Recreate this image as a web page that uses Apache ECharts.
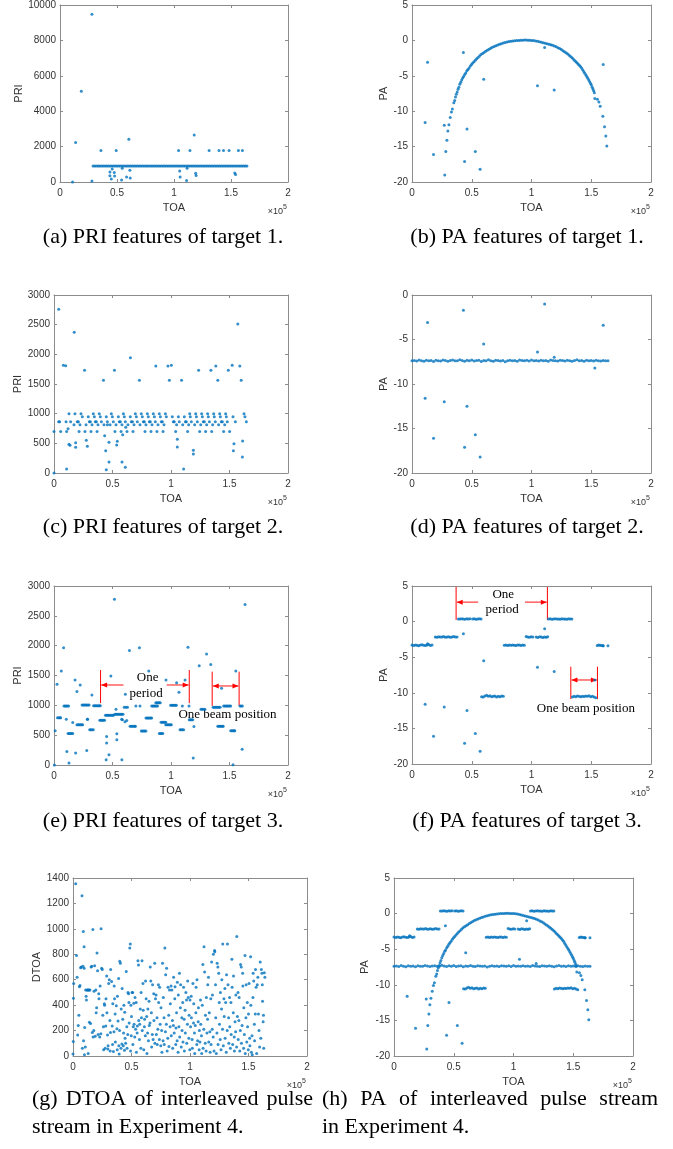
<!DOCTYPE html>
<html>
<head>
<meta charset="utf-8">
<title>PRI / PA features</title>
<script src="https://cdn.jsdelivr.net/npm/echarts@6/dist/echarts.min.js"></script>
<style>
html, body { margin: 0; padding: 0; background: #fff; }
#chart { width: 673px; height: 1149px; }
</style>
</head>
<body>
<div id="chart"></div>
<script>
// ---------------- data (TOA in units of 1e5) ----------------
// target 1, PRI: steady line at 900 plus scattered pulses
const priT1Toa = [0.29,0.305,0.32,0.335,0.35,0.365,0.38,0.395,0.41,0.425,0.44,0.455,0.47,0.485,0.50,0.515,0.53,0.545,0.56,0.575,0.59,0.605,0.62,0.635,0.65,0.665,0.68,0.695,0.71,0.725,0.74,0.755,0.77,0.785,0.80,0.815,0.83,0.845,0.86,0.875,0.89,0.905,0.92,0.935,0.95,0.965,0.98,0.995,1.01,1.025,1.04,1.055,1.07,1.085,1.10,1.115,1.13,1.145,1.16,1.175,1.19,1.205,1.22,1.235,1.25,1.265,1.28,1.295,1.31,1.325,1.34,1.355,1.37,1.385,1.40,1.415,1.43,1.445,1.46,1.475,1.49,1.505,1.52,1.535,1.55,1.565,1.58,1.595,1.61,1.625,1.64];
const priT1Level = 900;
const priT1Out = [[0.11,0],[0.137,2230],[0.187,5130],[0.28,9480],[0.28,60],[0.359,1780],[0.493,1780],[0.438,560],[0.438,360],[0.45,170],[0.458,730],[0.476,540],[0.479,340],[0.54,110],[0.546,770],[0.584,280],[0.604,2420],[0.613,670],[0.616,225],[1.04,1780],[1.05,620],[1.054,280],[1.11,90],[1.115,770],[1.14,1780],[1.177,2660],[1.19,490],[1.194,370],[1.308,1780],[1.395,1780],[1.434,1780],[1.483,1780],[1.565,1780],[1.60,1780],[1.533,505],[1.54,430]];

// target 1, PA: beam-scan arc
const paT1Arc = [[0.274,-19.0],[0.283,-15.7],[0.292,-14.1],[0.300,-12.8],[0.309,-11.9],[0.320,-10.9],[0.330,-10.1],[0.338,-9.7],[0.350,-8.8],[0.357,-8.5],[0.364,-8.0],[0.371,-7.6],[0.378,-7.3],[0.385,-6.9],[0.392,-6.6],[0.400,-6.2],[0.408,-5.9],[0.416,-5.6],[0.424,-5.3],[0.432,-5.1],[0.441,-4.8],[0.450,-4.6],[0.459,-4.3],[0.468,-4.1],[0.478,-3.9],[0.488,-3.6],[0.498,-3.4],[0.508,-3.2],[0.519,-3.0],[0.530,-2.8],[0.541,-2.6],[0.553,-2.4],[0.565,-2.2],[0.577,-2.0],[0.590,-1.85],[0.603,-1.7],[0.616,-1.55],[0.630,-1.4],[0.644,-1.25],[0.658,-1.1],[0.672,-0.98],[0.687,-0.87],[0.702,-0.76],[0.717,-0.65],[0.732,-0.55],[0.747,-0.46],[0.763,-0.38],[0.779,-0.3],[0.795,-0.23],[0.811,-0.17],[0.827,-0.12],[0.843,-0.08],[0.859,-0.05],[0.875,-0.02],[0.891,0.0],[0.907,0.02],[0.923,0.03],[0.939,0.04],[0.955,0.04],[0.971,0.03],[0.987,0.02],[1.003,0.0],[1.019,-0.03],[1.035,-0.07],[1.051,-0.12],[1.067,-0.18],[1.083,-0.25],[1.099,-0.32],[1.115,-0.4],[1.131,-0.47],[1.147,-0.55],[1.162,-0.62],[1.177,-0.7],[1.192,-0.8],[1.207,-0.91],[1.222,-1.03],[1.236,-1.15],[1.250,-1.3],[1.263,-1.45],[1.276,-1.6],[1.289,-1.75],[1.301,-1.9],[1.313,-2.07],[1.325,-2.24],[1.337,-2.4],[1.348,-2.6],[1.359,-2.8],[1.370,-2.98],[1.380,-3.15],[1.390,-3.33],[1.400,-3.5],[1.410,-3.7],[1.419,-3.9],[1.428,-4.15],[1.437,-4.4],[1.446,-4.65],[1.455,-4.9],[1.463,-5.1],[1.471,-5.35],[1.479,-5.6],[1.487,-5.85],[1.494,-6.1],[1.501,-6.3],[1.508,-6.6],[1.514,-6.85],[1.520,-7.1],[1.526,-7.4],[1.552,-8.3],[1.564,-8.7],[1.575,-9.3],[1.597,-10.7],[1.611,-12.2],[1.622,-13.5],[1.630,-14.9]];

// noise pulses common to every PA plot
const paNoise = [[0.11,-11.6],[0.13,-3.1],[0.18,-16.1],[0.27,-12.0],[0.43,-1.7],[0.44,-17.1],[0.46,-12.5],[0.53,-15.7],[0.57,-18.2],[0.60,-5.5],[1.05,-6.4],[1.11,-1.0],[1.19,-7.0],[1.53,-8.2],[1.60,-3.4]];

// target 2, PRI: five staggered levels plus scattered pulses
const priT2At1000 = [0.128,0.179,0.231,0.336,0.387,0.490,0.593,0.695,0.746,0.798,0.849,0.900,0.952,1.160,1.211,1.262,1.313,1.365,1.416,1.467,1.624];
const priT2At950 = [0.242,0.293,0.345,0.396,0.447,0.499,0.550,0.601,0.652,0.704,0.755,0.806,0.858,0.909,0.960,1.011,1.063,1.114,1.165,1.217,1.268,1.319,1.370,1.422,1.473,1.530,1.632];
const priT2At865 = [0.040,0.048,0.103,0.142,0.199,0.208,0.302,0.311,0.353,0.362,0.405,0.456,0.507,0.558,0.567,0.610,0.661,0.670,0.712,0.764,0.772,0.815,0.823,0.866,0.917,0.926,1.020,1.028,1.071,1.123,1.131,1.174,1.225,1.276,1.285,1.328,1.379,1.430,1.439,1.481,1.550,1.644];
const priT2At815 = [0.171,0.222,0.274,0.325,0.376,0.427,0.456,0.479,0.530,0.581,0.632,0.684,0.735,0.786,0.838,0.889,0.940,1.048,1.100,1.151,1.202,1.254,1.305,1.356,1.407,1.459];
const priT2At700 = [0.0,0.057,0.108,0.214,0.265,0.316,0.368,0.521,0.573,0.624,0.675,0.778,0.829,0.880,0.932,1.040,1.142,1.245,1.296,1.348,1.450,1.501];
const priT2Out = [[0.12,747],[0.128,483],[0.137,466],[0.185,511],[0.185,433],[0.276,551],[0.285,449],[0.433,629],[0.442,376],[0.47,517],[0.47,185],[0.447,56],[0.541,534],[0.536,472],[0.581,185],[0.610,96],[0.587,646],[0.613,770],[0.108,67],[0.0,0],[1.054,567],[1.054,438],[1.108,67],[1.191,382],[1.191,320],[1.538,494],[1.533,376],[1.612,539],[1.61,270],[0.04,2758],[0.08,1815],[0.10,1809],[0.173,2371],[0.261,1730],[0.423,1562],[0.517,1730],[0.653,1944],[0.73,1562],[0.87,1803],[0.974,1803],[0.986,1562],[1.003,1815],[1.09,1562],[1.236,1730],[1.341,1730],[1.383,1803],[1.40,1562],[1.49,1730],[1.523,1815],[1.571,2511],[1.588,1803],[1.60,1562]];

// target 2, PA: constant beam
const paT2Line = [[0.00,-7.40],[0.02,-7.35],[0.04,-7.42],[0.06,-7.30],[0.08,-7.38],[0.10,-7.45],[0.12,-7.33],[0.14,-7.40],[0.16,-7.36],[0.18,-7.48],[0.20,-7.32],[0.22,-7.39],[0.24,-7.41],[0.26,-7.29],[0.28,-7.37],[0.30,-7.44],[0.32,-7.35],[0.34,-7.31],[0.36,-7.40],[0.38,-7.38],[0.40,-7.27],[0.42,-7.36],[0.44,-7.43],[0.46,-7.34],[0.48,-7.39],[0.50,-7.30],[0.52,-7.42],[0.54,-7.37],[0.56,-7.33],[0.58,-7.46],[0.60,-7.35],[0.62,-7.40],[0.64,-7.28],[0.66,-7.38],[0.68,-7.44],[0.70,-7.32],[0.72,-7.36],[0.74,-7.41],[0.76,-7.35],[0.78,-7.50],[0.80,-7.38],[0.82,-7.33],[0.84,-7.40],[0.86,-7.36],[0.88,-7.43],[0.90,-7.31],[0.92,-7.37],[0.94,-7.39],[0.96,-7.34],[0.98,-7.42],[1.00,-7.29],[1.02,-7.38],[1.04,-7.36],[1.06,-7.41],[1.08,-7.33],[1.10,-7.40],[1.12,-7.35],[1.14,-7.44],[1.16,-7.30],[1.18,-7.37],[1.20,-7.39],[1.22,-7.42],[1.24,-7.34],[1.26,-7.36],[1.28,-7.41],[1.30,-7.32],[1.32,-7.38],[1.34,-7.45],[1.36,-7.35],[1.38,-7.28],[1.40,-7.40],[1.42,-7.37],[1.44,-7.43],[1.46,-7.33],[1.48,-7.39],[1.50,-7.36],[1.52,-7.41],[1.54,-7.34],[1.56,-7.38],[1.58,-7.42],[1.60,-7.35],[1.62,-7.40],[1.64,-7.38]];

// target 3, PRI: short dashes per beam position plus scattered pulses
const priT3Dash = [[0.030,790],[0.040,790],[0.050,790],[0.057,790],[0.085,990],[0.095,990],[0.105,990],[0.115,990],[0.125,990],[0.120,528],[0.130,528],[0.140,528],[0.150,528],[0.160,528],[0.160,712],[0.196,673],[0.206,673],[0.216,673],[0.226,673],[0.236,673],[0.245,673],[0.240,1005],[0.250,1005],[0.260,1005],[0.270,1005],[0.280,1005],[0.290,1005],[0.300,1005],[0.305,590],[0.315,590],[0.325,590],[0.336,590],[0.338,992],[0.348,992],[0.358,992],[0.368,992],[0.378,992],[0.388,992],[0.396,992],[0.392,751],[0.402,751],[0.412,751],[0.422,751],[0.432,751],[0.440,835],[0.450,835],[0.460,835],[0.470,835],[0.480,835],[0.490,835],[0.500,835],[0.508,835],[0.520,850],[0.530,850],[0.540,850],[0.550,850],[0.560,850],[0.570,850],[0.580,850],[0.590,850],[0.600,968],[0.615,968],[0.628,968],[0.650,651],[0.660,651],[0.670,651],[0.680,651],[0.690,651],[0.696,651],[0.700,990],[0.735,990],[0.746,568],[0.756,568],[0.766,568],[0.776,568],[0.786,568],[0.786,788],[0.796,788],[0.806,788],[0.816,788],[0.826,788],[0.835,788],[0.835,990],[0.845,990],[0.855,990],[0.865,990],[0.875,990],[0.885,990],[0.870,1045],[0.880,1045],[0.890,1045],[0.900,1045],[0.908,1045],[0.900,528],[0.910,528],[0.920,528],[0.930,528],[0.915,715],[0.925,715],[0.935,715],[0.945,715],[0.955,715],[0.955,673],[0.965,673],[0.975,673],[0.985,673],[0.995,673],[1.003,673],[0.997,1001],[1.007,1001],[1.017,1001],[1.027,1001],[1.037,1001],[1.046,1001],[1.077,590],[1.087,590],[1.097,590],[1.108,590],[1.097,990],[1.154,990],[1.156,757],[1.166,757],[1.176,757],[1.186,757],[1.256,935],[1.266,935],[1.276,935],[1.290,935],[1.360,968],[1.370,968],[1.380,968],[1.390,968],[1.400,968],[1.410,968],[1.420,968],[1.400,648],[1.410,648],[1.420,648],[1.430,648],[1.440,648],[1.446,648],[1.450,990],[1.460,990],[1.470,990],[1.480,990],[1.490,990],[1.500,990],[1.510,990],[1.510,573],[1.520,573],[1.530,573],[1.540,573],[1.545,573],[1.590,990],[1.600,990],[1.610,990]];
const priT3Out = [[0.003,0],[0.01,573],[0.026,1352],[0.0625,1575],[0.082,1964],[0.11,228],[0.128,33],[0.18,1425],[0.185,200],[0.196,1230],[0.224,1341],[0.28,245],[0.287,768],[0.324,1174],[0.446,89],[0.45,478],[0.45,367],[0.47,172],[0.486,1491],[0.517,2777],[0.53,935],[0.537,523],[0.537,423],[0.58,89],[0.585,757],[0.61,1185],[0.622,746],[0.645,1920],[0.73,1964],[0.81,1575],[0.957,1425],[1.048,1380],[1.068,1219],[1.12,1425],[1.145,1975],[1.19,117],[1.196,646],[1.241,1664],[1.304,1859],[1.34,1686],[1.432,1285],[1.554,1575],[1.53,6],[1.608,262],[1.633,2688],[0.105,765],[0.285,765],[0.578,765],[0.607,726]];

// target 3, PA: stepped beam positions
const paT3Steps = [[0.000,-3.30],[0.014,-3.35],[0.028,-3.28],[0.042,-3.32],[0.056,-3.40],[0.070,-3.30],[0.084,-3.25],[0.098,-3.33],[0.112,-3.36],[0.126,-3.30],[0.140,-3.20],[0.154,-3.34],[0.168,-3.30],
  [0.195,-2.15],[0.209,-2.20],[0.223,-2.12],[0.237,-2.18],[0.251,-2.15],[0.265,-2.10],[0.279,-2.20],[0.293,-2.16],[0.307,-2.13],[0.321,-2.19],[0.335,-2.15],[0.349,-2.11],[0.363,-2.17],[0.377,-2.15],
  [0.388,0.38],[0.402,0.35],[0.416,0.40],[0.430,0.37],[0.444,0.33],[0.458,0.39],[0.472,0.36],[0.486,0.40],[0.508,0.36],[0.522,0.39],[0.536,0.34],[0.550,0.38],[0.564,0.40],[0.578,0.35],
  [0.582,-10.55],[0.596,-10.60],[0.610,-10.45],[0.624,-10.35],[0.638,-10.50],[0.652,-10.40],[0.666,-10.55],[0.680,-10.50],[0.694,-10.45],[0.708,-10.60],[0.722,-10.50],[0.736,-10.55],[0.750,-10.45],[0.764,-10.50],
  [0.772,-3.32],[0.786,-3.28],[0.800,-3.35],[0.814,-3.30],[0.828,-3.33],[0.842,-3.27],[0.856,-3.31],[0.870,-3.36],[0.884,-3.30],[0.898,-3.29],[0.912,-3.34],[0.926,-3.30],[0.940,-3.32],
  [0.955,-2.10],[0.969,-2.16],[0.983,-2.20],[0.997,-2.14],[1.011,-2.18],[1.039,-2.15],[1.053,-2.22],[1.067,-2.13],[1.081,-2.17],[1.095,-2.24],[1.109,-2.15],[1.123,-2.19],[1.135,-2.14],
  [1.142,0.36],[1.156,0.39],[1.170,0.34],[1.184,0.38],[1.198,0.40],[1.212,0.35],[1.226,0.37],[1.240,0.33],[1.254,0.39],[1.268,0.36],[1.282,0.38],[1.296,0.34],[1.310,0.40],[1.324,0.37],[1.338,0.35],
  [1.342,-10.60],[1.356,-10.50],[1.370,-10.55],[1.384,-10.45],[1.398,-10.50],[1.412,-10.55],[1.426,-10.48],[1.440,-10.52],[1.454,-10.45],[1.468,-10.50],[1.482,-10.40],[1.496,-10.55],[1.510,-10.50],[1.524,-10.60],[1.538,-10.70],
  [1.550,-3.35],[1.562,-3.28],[1.574,-3.32],[1.586,-3.36],[1.598,-3.40],[1.640,-3.38]];

// interleaved stream, DTOA
const dtoaMix = [[0.000,15],[0.002,115],[0.004,455],[0.006,570],[0.023,1355],[0.03,790],[0.035,620],[0.04,165],[0.045,240],[0.05,320],[0.055,545],[0.06,555],[0.065,695],[0.07,700],[0.077,1260],[0.085,705],[0.088,980],[0.09,120],[0.095,860],[0.098,10],[0.1,225],[0.095,690],[0.08,60],
[0.105,70],[0.108,520],[0.112,470],[0.115,440],[0.12,520],[0.125,520],[0.13,20],[0.132,520],[0.138,520],[0.14,265],[0.145,520],[0.15,255],[0.155,700],[0.16,705],[0.165,185],[0.17,995],[0.172,150],[0.178,200],[0.18,510],[0.185,710],[0.19,155],[0.195,520],[0.198,340],
[0.202,380],[0.205,810],[0.21,670],[0.215,170],[0.22,490],[0.222,450],[0.228,150],[0.232,550],[0.238,175],[0.24,1000],[0.245,690],[0.25,680],[0.255,320],[0.26,230],[0.262,50],[0.268,410],[0.27,400],[0.275,60],[0.28,235],[0.282,450],[0.288,630],[0.29,340],[0.295,165],[0.298,55],[0.3,80],
[0.305,570],[0.31,600],[0.315,280],[0.318,40],[0.32,185],[0.322,680],[0.33,585],[0.335,235],[0.338,90],[0.34,410],[0.345,35],[0.35,190],[0.352,550],[0.355,450],[0.36,330],[0.362,110],[0.37,395],[0.375,215],[0.378,50],[0.38,470],[0.385,275],[0.39,610],[0.392,80],[0.395,15],[0.398,200],
[0.4,745],[0.405,730],[0.41,60],[0.412,370],[0.418,95],[0.42,530],[0.425,290],[0.43,80],[0.432,180],[0.435,400],[0.44,45],[0.442,345],[0.445,140],[0.45,100],[0.455,665],[0.46,230],[0.462,60],[0.468,170],[0.47,500],[0.475,490],[0.478,420],[0.48,260],[0.485,850],[0.49,880],[0.492,40],[0.495,400],[0.498,160],
[0.5,310],[0.505,500],[0.51,500],[0.512,90],[0.515,230],[0.52,415],[0.522,250],[0.528,150],[0.53,460],[0.535,210],[0.54,420],[0.542,30],[0.548,180],[0.55,235],[0.555,750],[0.56,715],[0.562,280],[0.568,130],[0.57,250],[0.575,370],[0.58,60],[0.582,500],[0.585,300],[0.59,750],[0.592,200],[0.598,570],
[0.6,360],[0.605,50],[0.61,230],[0.612,290],[0.618,160],[0.62,590],[0.625,450],[0.63,310],[0.632,20],[0.638,180],[0.64,370],[0.645,120],[0.65,430],[0.652,240],[0.658,260],[0.66,700],[0.665,590],[0.67,340],[0.672,70],[0.678,170],[0.68,560],[0.685,130],[0.69,490],[0.692,280],[0.698,730],
[0.7,100],[0.705,450],[0.71,480],[0.712,170],[0.718,300],[0.72,90],[0.725,210],[0.73,560],[0.732,420],[0.738,130],[0.74,540],[0.745,250],[0.75,80],[0.752,380],[0.758,200],[0.76,30],[0.765,730],[0.77,120],[0.772,460],[0.778,300],[0.78,90],[0.785,850],[0.79,190],[0.792,640],[0.798,250],
[0.8,690],[0.805,40],[0.81,140],[0.812,540],[0.818,320],[0.82,75],[0.825,520],[0.83,230],[0.832,410],[0.838,550],[0.84,160],[0.845,520],[0.85,280],[0.852,60],[0.858,240],[0.86,620],[0.865,180],[0.87,450],[0.872,545],[0.878,90],[0.88,220],[0.885,340],[0.89,120],[0.892,580],[0.898,30],
[0.9,480],[0.905,230],[0.91,650],[0.912,150],[0.918,380],[0.92,560],[0.925,70],[0.93,300],[0.932,200],[0.938,420],[0.94,110],[0.945,540],[0.95,290],[0.952,40],[0.958,360],[0.96,180],[0.965,500],[0.97,440],[0.972,100],[0.978,250],[0.98,590],[0.985,460],[0.99,140],[0.992,320],[0.998,50],
[1.0,440],[1.005,230],[1.01,470],[1.012,300],[1.018,130],[1.02,60],[1.025,570],[1.03,260],[1.032,410],[1.038,180],[1.04,20],[1.045,240],[1.05,340],[1.052,540],[1.058,90],[1.06,600],[1.065,120],[1.07,270],[1.072,380],[1.078,50],[1.08,200],[1.085,110],[1.09,440],[1.092,250],[1.098,160],
[1.1,20],[1.105,400],[1.11,720],[1.112,60],[1.118,210],[1.12,860],[1.125,660],[1.13,100],[1.132,320],[1.138,40],[1.14,460],[1.145,180],[1.15,290],[1.152,560],[1.158,620],[1.16,110],[1.165,340],[1.17,190],[1.172,30],[1.178,450],[1.18,90],[1.185,740],[1.19,210],[1.192,480],[1.198,150],
[1.2,800],[1.205,40],[1.21,830],[1.212,820],[1.218,560],[1.22,300],[1.225,20],[1.23,180],[1.232,730],[1.238,700],[1.24,90],[1.245,650],[1.25,420],[1.252,250],[1.258,130],[1.26,500],[1.265,50],[1.27,370],[1.272,600],[1.278,210],[1.28,880],[1.285,80],[1.29,450],[1.292,310],[1.298,530],
[1.3,140],[1.305,420],[1.31,30],[1.312,640],[1.318,200],[1.32,880],[1.325,560],[1.33,300],[1.332,100],[1.338,460],[1.34,230],[1.345,60],[1.35,420],[1.352,170],[1.358,760],[1.36,540],[1.365,90],[1.37,340],[1.372,630],[1.378,150],[1.38,40],[1.385,270],[1.39,190],[1.392,480],[1.398,70],
[1.4,940],[1.405,310],[1.41,500],[1.412,130],[1.418,280],[1.42,460],[1.425,40],[1.43,200],[1.432,720],[1.438,700],[1.44,100],[1.445,240],[1.45,650],[1.452,550],[1.458,60],[1.46,380],[1.465,170],[1.47,790],[1.472,20],[1.478,300],[1.48,560],[1.485,110],[1.49,420],[1.492,230],[1.498,50],
[1.5,330],[1.505,570],[1.51,140],[1.512,80],[1.518,780],[1.52,400],[1.525,30],[1.53,160],[1.532,10],[1.538,460],[1.54,650],[1.545,590],[1.55,250],[1.552,120],[1.558,330],[1.56,680],[1.565,540],[1.57,20],[1.575,560],[1.58,620],[1.585,330],[1.59,200],[1.595,70],[1.6,740],[1.605,140],[1.61,680],[1.615,650],[1.62,430],[1.625,270],[1.63,60],[1.635,655],[1.64,620],[1.628,320],[1.618,560]];

// ---------------- layout ----------------
const blue = '#0072BD';
const axisColor = '#8c8c8c';
const textColor = '#333';
const sans = '"Liberation Sans", Arial, sans-serif';
const serif = '"Liberation Serif", "Times New Roman", serif';

// left, top, width, height, y range, y name, y name gap
const panels = [
  { box: [60, 4, 228, 178],   y: [0, 10000, 2000], name: 'PRI',  gap: 33 },
  { box: [412, 4, 239, 178],  y: [-20, 5, 5],      name: 'PA',   gap: 23 },
  { box: [54, 295, 234, 178], y: [0, 3000, 500],   name: 'PRI',  gap: 28 },
  { box: [412, 295, 239, 178],y: [-20, 0, 5],      name: 'PA',   gap: 23 },
  { box: [54, 586, 234, 179], y: [0, 3000, 500],   name: 'PRI',  gap: 28 },
  { box: [412, 586, 239, 178],y: [-20, 5, 5],      name: 'PA',   gap: 23 },
  { box: [73, 878, 234, 178], y: [0, 1400, 200],   name: 'DTOA', gap: 27 },
  { box: [394, 878, 239, 178],y: [-20, 5, 5],      name: 'PA',   gap: 24 }
];

const row = (toas, level) => toas.map(t => [t, level]);

const panelData = [
  [row(priT1Toa, priT1Level), priT1Out],
  [paT1Arc, paNoise],
  [row(priT2At1000, 1000), row(priT2At950, 950), row(priT2At865, 865), row(priT2At815, 815), row(priT2At700, 700), priT2Out],
  [paT2Line, paNoise],
  [priT3Dash, priT3Out],
  [paT3Steps, paNoise],
  [dtoaMix],
  [paT2Line, paT3Steps, paT1Arc, paNoise]
];

const plain = v => String(v);
const grid = [], xAxis = [], yAxis = [], series = [];
panels.forEach((p, i) => {
  grid.push({ left: p.box[0], top: p.box[1], width: p.box[2], height: p.box[3] });
  const line = { show: true, onZero: false, lineStyle: { color: axisColor, width: 1 } };
  const tick = { show: true, inside: true, length: 3, lineStyle: { color: axisColor, width: 1 } };
  const label = { fontSize: 10, color: textColor, fontFamily: sans, formatter: plain };
  xAxis.push({
    gridIndex: i, type: 'value', position: 'bottom', min: 0, max: 2, interval: 0.5,
    axisLine: line, axisTick: tick, splitLine: { show: false },
    axisLabel: Object.assign({ margin: 6 }, label),
    name: 'TOA', nameLocation: 'middle', nameGap: 20,
    nameTextStyle: { fontSize: 11, color: textColor, fontFamily: sans }
  });
  xAxis.push({
    gridIndex: i, type: 'value', position: 'top', min: 0, max: 2, interval: 0.5,
    axisLine: line, axisTick: tick, splitLine: { show: false }, axisLabel: { show: false }
  });
  yAxis.push({
    gridIndex: i, type: 'value', position: 'left', min: p.y[0], max: p.y[1], interval: p.y[2],
    axisLine: line, axisTick: tick, splitLine: { show: false },
    axisLabel: Object.assign({ margin: 4 }, label),
    name: p.name, nameLocation: 'middle', nameGap: p.gap,
    nameTextStyle: { fontSize: 11, color: textColor, fontFamily: sans }
  });
  yAxis.push({
    gridIndex: i, type: 'value', position: 'right', min: p.y[0], max: p.y[1], interval: p.y[2],
    axisLine: line, axisTick: tick, splitLine: { show: false }, axisLabel: { show: false }
  });
  panelData[i].forEach(d => {
    series.push({
      type: 'scatter', xAxisIndex: 2 * i, yAxisIndex: 2 * i, data: d,
      symbol: 'circle', symbolSize: 3, itemStyle: { color: blue }, silent: true
    });
  });
});

const chart = echarts.init(document.getElementById('chart'));
chart.setOption({ animation: false, backgroundColor: '#fff', grid, xAxis, yAxis, series });

// ---------------- graphics: exponents, captions, annotations ----------------
const g = [];
const red = '#ff0000';

panels.forEach(p => {
  const right = p.box[0] + p.box[2];
  const bottom = p.box[1] + p.box[3];
  g.push({ type: 'text', x: right - 5, y: bottom + 30, style: { text: '×10', fontSize: 9, fontFamily: sans, fill: textColor, align: 'right', verticalAlign: 'middle' } });
  g.push({ type: 'text', x: right - 5, y: bottom + 25, style: { text: '5', fontSize: 7, fontFamily: sans, fill: textColor, align: 'left', verticalAlign: 'middle' } });
});

const capFont = 22;
const caption = (text, cx, cy) => g.push({ type: 'text', x: cx, y: cy, style: { text, fontSize: capFont, fontFamily: serif, fill: '#000', align: 'center', verticalAlign: 'middle' } });
caption('(a) PRI features of target 1.', 163, 237);
caption('(b) PA features of target 1.', 527, 237);
caption('(c) PRI features of target 2.', 163, 527);
caption('(d) PA features of target 2.', 527, 527);
caption('(e) PRI features of target 3.', 163, 821);
caption('(f) PA features of target 3.', 527, 821);

// justified first caption lines for (g) and (h)
const ctx = document.createElement('canvas').getContext('2d');
ctx.font = capFont + 'px "Liberation Serif"';
function justify(words, x0, x1, y) {
  const widths = words.map(w => ctx.measureText(w).width);
  const gapW = (x1 - x0 - widths.reduce((a, b) => a + b, 0)) / (words.length - 1);
  let x = x0;
  words.forEach((w, k) => {
    g.push({ type: 'text', x, y, style: { text: w, fontSize: capFont, fontFamily: serif, fill: '#000', align: 'left', verticalAlign: 'middle' } });
    x += widths[k] + gapW;
  });
}
justify(['(g)', 'DTOA', 'of', 'interleaved', 'pulse'], 32, 313, 1099);
g.push({ type: 'text', x: 32, y: 1127, style: { text: 'stream in Experiment 4.', fontSize: capFont, fontFamily: serif, fill: '#000', align: 'left', verticalAlign: 'middle' } });
justify(['(h)', 'PA', 'of', 'interleaved', 'pulse', 'stream'], 322, 658, 1099);
g.push({ type: 'text', x: 322, y: 1127, style: { text: 'in Experiment 4.', fontSize: capFont, fontFamily: serif, fill: '#000', align: 'left', verticalAlign: 'middle' } });

// annotation helpers in data coordinates
const toPx = (i, x, y) => chart.convertToPixel({ xAxisIndex: 2 * i, yAxisIndex: 2 * i }, [x, y]);
function vline(i, x, y0, y1) {
  const a = toPx(i, x, y0), b = toPx(i, x, y1);
  g.push({ type: 'line', shape: { x1: a[0], y1: a[1], x2: b[0], y2: b[1] }, style: { stroke: red, lineWidth: 1 } });
}
function head(px, py, dir) {
  g.push({ type: 'polygon', shape: { points: [[px, py], [px - dir * 6, py - 2.5], [px - dir * 6, py + 2.5]] }, style: { fill: red } });
}
function arrow(i, xFrom, xTo, y, both) {
  const a = toPx(i, xFrom, y), b = toPx(i, xTo, y);
  g.push({ type: 'line', shape: { x1: a[0], y1: a[1], x2: b[0], y2: b[1] }, style: { stroke: '#ff6060', lineWidth: 1.5 } });
  const dir = b[0] > a[0] ? 1 : -1;
  head(b[0], b[1], dir);
  if (both) head(a[0], a[1], -dir);
}
function note(i, text, x, y) {
  const p = toPx(i, x, y);
  g.push({ type: 'text', x: p[0], y: p[1], style: { text, fontSize: 13, fontFamily: serif, fill: '#000', align: 'center', verticalAlign: 'middle' } });
}

// (e) PRI of target 3
vline(4, 0.398, 1036, 1592); vline(4, 1.156, 1036, 1592);
arrow(4, 0.594, 0.403, 1341); arrow(4, 0.963, 1.151, 1341);
note(4, 'One', 0.80, 1464); note(4, 'period', 0.787, 1202);
vline(4, 1.352, 991, 1564); vline(4, 1.582, 991, 1564);
arrow(4, 1.357, 1.577, 1325, true);
note(4, 'One beam position', 1.483, 840);

// (f) PA of target 3
vline(5, 0.369, 0.23, 4.86); vline(5, 1.133, 0.23, 4.86);
arrow(5, 0.554, 0.374, 2.73); arrow(5, 0.945, 1.128, 2.73);
note(5, 'One', 0.764, 3.84); note(5, 'period', 0.755, 1.62);
vline(5, 1.329, -6.34, -10.88); vline(5, 1.552, -6.34, -10.88);
arrow(5, 1.334, 1.547, -8.2, true);
note(5, 'One beam position', 1.455, -12.27);

chart.setOption({ graphic: g });
</script>
</body>
</html>
